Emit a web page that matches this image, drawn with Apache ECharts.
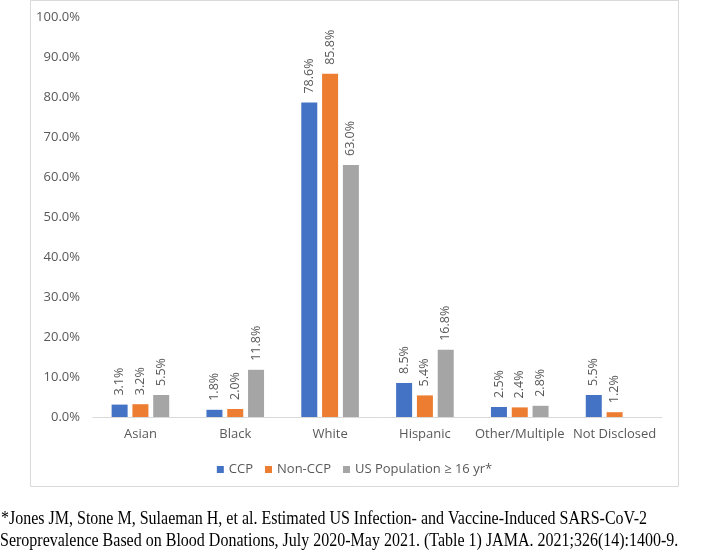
<!DOCTYPE html>
<html>
<head>
<meta charset="utf-8">
<script src="https://cdn.jsdelivr.net/npm/echarts@6/dist/echarts.min.js"></script>
<style>
html,body{margin:0;padding:0;background:#fff;}
#c{width:709px;height:551px;}
</style>
</head>
<body>
<div id="c"></div>
<script>
var categories = ['Asian', 'Black', 'White', 'Hispanic', 'Other/Multiple', 'Not Disclosed'];
var ccp = [3.1, 1.8, 78.6, 8.5, 2.5, 5.5];
var nonCcp = [3.2, 2.0, 85.8, 5.4, 2.4, 1.2];
var usPop = [5.5, 11.8, 63.0, 16.8, 2.8, null];
var seriesNames = ['CCP', 'Non-CCP', 'US Population \u2265 16 yr*'];
var footnote1 = '*Jones JM, Stone M, Sulaeman H, et al. Estimated US Infection- and Vaccine-Induced SARS-CoV-2';
var footnote2 = 'Seroprevalence Based on Blood Donations, July 2020-May 2021. (Table 1) JAMA. 2021;326(14):1400-9.';

var colors = ['#4472C4', '#ED7D31', '#A5A5A5'];
var font = '"Open Sans", "Noto Sans", sans-serif';
function mkSeries(name, data, color) {
  return {
    name: name, type: 'bar', data: data, barWidth: 16, barGap: '30%',
    itemStyle: { color: color },
    label: {
      show: true, position: 'top', rotate: 90, align: 'left', verticalAlign: 'middle',
      distance: 9, color: '#595959', fontSize: 12.5, fontFamily: font,
      formatter: function (p) { return p.value == null ? '' : p.value.toFixed(1) + '%'; }
    }
  };
}
var serifFont = '16px "Liberation Serif", "Times New Roman", serif';
var chart = echarts.init(document.getElementById('c'));
chart.setOption({
  animation: false,
  color: colors,
  grid: { left: 93, right: 47, top: 17, bottom: 134, containLabel: false },
  legend: {
    data: seriesNames, left: 'center', top: 458,
    itemWidth: 7, itemHeight: 7, itemGap: 12, icon: 'rect',
    textStyle: { color: '#595959', fontSize: 13, fontFamily: font }
  },
  xAxis: {
    type: 'category', data: categories,
    axisLine: { show: true, lineStyle: { color: '#D9D9D9', width: 1 } },
    axisTick: { show: false },
    axisLabel: { interval: 0, color: '#595959', fontSize: 13, fontFamily: font, margin: 11 }
  },
  yAxis: {
    type: 'value', min: 0, max: 100, interval: 10,
    splitLine: { show: false },
    axisLine: { show: false }, axisTick: { show: false },
    axisLabel: { color: '#595959', fontSize: 13, fontFamily: font, margin: 13,
      formatter: function (v) { return v.toFixed(1) + '%'; } }
  },
  graphic: [
    { type: 'rect', shape: { x: 30.5, y: 0.5, width: 648, height: 486 },
      style: { fill: 'none', stroke: '#D9D9D9', lineWidth: 1 }, silent: true },
    { type: 'text', x: 1, y: 509, scaleY: 1.2,
      style: { text: footnote1, fill: '#000', font: serifFont } },
    { type: 'text', x: 0, y: 531, scaleY: 1.2,
      style: { text: footnote2, fill: '#000', font: serifFont } }
  ],
  series: [
    mkSeries(seriesNames[0], ccp, colors[0]),
    mkSeries(seriesNames[1], nonCcp, colors[1]),
    mkSeries(seriesNames[2], usPop, colors[2])
  ]
});
</script>
</body>
</html>
